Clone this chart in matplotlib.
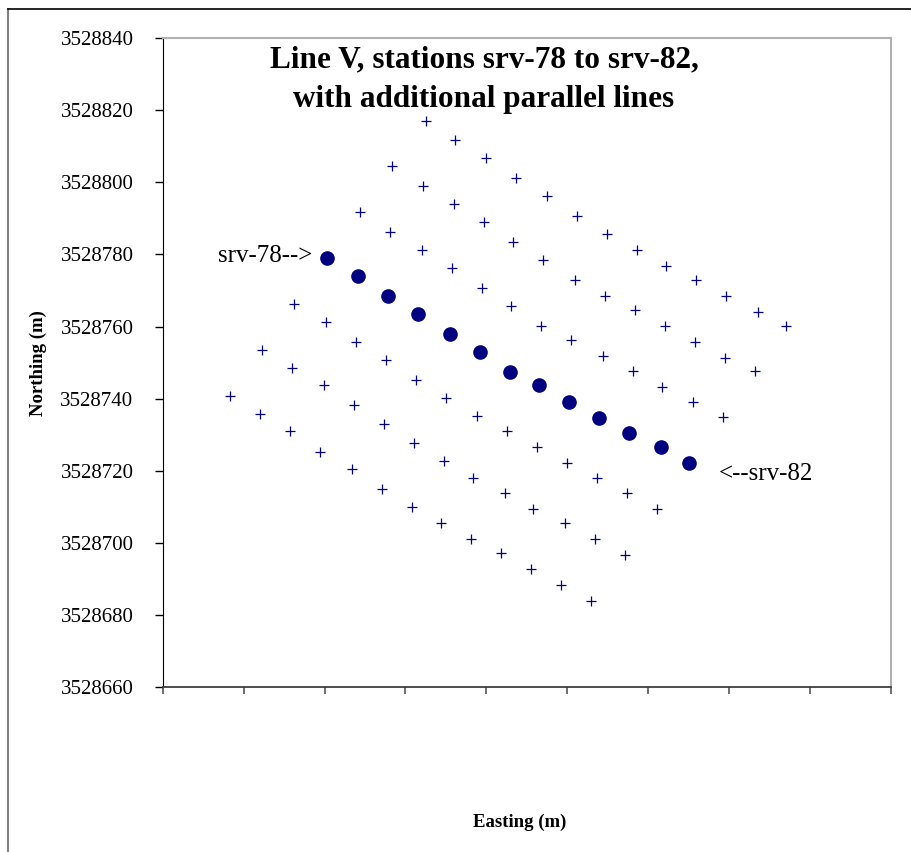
import numpy as np
import matplotlib
matplotlib.use("Agg")
import matplotlib.pyplot as plt
from matplotlib.lines import Line2D

plt.rcParams["font.family"] = ["Liberation Serif", "DejaVu Serif"]

# Easting has no tick labels in the original, so it is kept as metres
# from the left edge of the plot (ticks every 20 m).
EAST_TICKS  = [0, 20, 40, 60, 80, 100, 120, 140, 160, 180]
NORTH_TICKS = [3528660, 3528680, 3528700, 3528720, 3528740,
               3528760, 3528780, 3528800, 3528820, 3528840]

# ── Line V, stations srv-78 .. srv-82 (big dots) ──────────────────────
line_v_e = [40.7, 48.2, 55.6, 63.0, 70.9, 78.3, 85.8, 93.1, 100.4, 107.8, 115.2, 123.1, 130.0]
line_v_n = [3528779.1, 3528774.0, 3528768.5, 3528763.5, 3528758.0, 3528753.0, 3528747.5,
            3528743.7, 3528739.2, 3528734.7, 3528730.4, 3528726.5, 3528722.1]

# ── Parallel lines (plus markers), north-east side first ──────────────
par_a_e = [65.0, 72.3, 79.8, 87.2, 95.1, 102.4, 109.7, 117.2, 124.5, 131.9, 139.3, 147.2, 154.1]
par_a_n = [3528817.1, 3528811.7, 3528806.7, 3528801.2, 3528796.2, 3528790.7, 3528785.7,
           3528781.3, 3528776.8, 3528772.9, 3528768.5, 3528764.0, 3528760.2]

par_b_e = [56.6, 64.4, 71.9, 79.3, 86.6, 94.0, 101.9, 109.3, 116.7, 124.1, 131.5, 138.9, 146.3]
par_b_n = [3528804.5, 3528799.0, 3528794.0, 3528788.9, 3528783.4, 3528778.4, 3528772.9,
           3528768.5, 3528764.6, 3528760.1, 3528755.7, 3528751.4, 3528747.6]

par_c_e = [48.7, 56.1, 64.0, 71.4, 78.8, 86.1, 93.5, 100.9, 108.8, 116.2, 123.5, 131.0, 138.4]
par_c_n = [3528791.7, 3528786.3, 3528781.3, 3528776.3, 3528770.8, 3528765.8, 3528760.1,
           3528756.3, 3528751.9, 3528747.6, 3528743.2, 3528739.2, 3528734.8]

par_d_e = [32.4, 40.3, 47.8, 55.1, 62.5, 69.9, 77.8, 85.2, 92.5, 99.95, 107.3, 114.7, 122.1]
par_d_n = [3528766.3, 3528761.3, 3528755.7, 3528750.7, 3528745.2, 3528740.3, 3528735.3,
           3528730.9, 3528726.5, 3528722.1, 3528718.1, 3528713.7, 3528709.3]

par_e_e = [24.6, 32.0, 39.9, 47.3, 54.6, 62.0, 69.4, 76.8, 84.6, 91.6, 99.5, 106.8, 114.2]
par_e_n = [3528753.6, 3528748.6, 3528743.7, 3528738.1, 3528733.1, 3528727.6, 3528722.6,
           3528718.1, 3528713.7, 3528709.3, 3528705.4, 3528701.1, 3528696.6]

par_f_e = [16.7, 24.1, 31.5, 38.9, 46.7, 54.2, 61.6, 68.9, 76.3, 83.7, 91.1, 98.4, 105.8]
par_f_n = [3528740.8, 3528735.8, 3528730.9, 3528725.3, 3528720.4, 3528714.9, 3528709.9,
           3528705.4, 3528701.1, 3528697.1, 3528692.7, 3528688.2, 3528683.8]

parallel_lines = [
    (par_a_e, par_a_n), (par_b_e, par_b_n), (par_c_e, par_c_n),
    (par_d_e, par_d_n), (par_e_e, par_e_n), (par_f_e, par_f_n),
]

NAVY = "#000080"


def main():
    fig = plt.figure(figsize=(9.12, 8.52), dpi=100)
    ax = fig.add_axes([0.1784, 0.1937, 0.7986, 0.7614])

    for east, north in parallel_lines:
        ax.plot(east, north, ls="none", marker="+", ms=7, mew=0.9, color=NAVY)
    ax.plot(line_v_e, line_v_n, ls="none", marker="o", ms=9.5, color=NAVY)

    ax.text(13.6, 3528778.0, "srv-78-->", fontsize=18, ha="left", va="baseline")
    ax.text(137.4, 3528717.4, "<--srv-82", fontsize=18, ha="left", va="baseline")

    ax.set_xlim(EAST_TICKS[0], EAST_TICKS[-1])
    ax.set_ylim(NORTH_TICKS[0], NORTH_TICKS[-1])
    ax.set_xticks(EAST_TICKS)
    ax.set_xticklabels([])
    ax.set_yticks(NORTH_TICKS)
    ax.set_yticklabels([str(v) for v in NORTH_TICKS], fontsize=15)
    ax.tick_params(axis="y", direction="out", length=6, width=1, pad=15)
    ax.tick_params(axis="x", direction="out", length=5, width=1.2, color="#555555")

    ax.spines["left"].set_color("black")
    ax.spines["bottom"].set_color("#404040")
    ax.spines["bottom"].set_linewidth(1.3)
    for side in ("top", "right"):
        ax.spines[side].set_color("#b0b0b0")
        ax.spines[side].set_linewidth(1.5)

    fig.text(484 / 912, 1 - 45 / 852,
             "Line V, stations srv-78 to srv-82,\nwith additional parallel lines",
             fontsize=22.5, fontweight="bold", ha="center", va="top", linespacing=1.5)
    fig.text(38 / 912, 1 - 362.7 / 852, "Northing (m)", fontsize=13.5,
             fontweight="bold", rotation=90, ha="center", va="center")
    fig.text(520 / 912, 1 - 822 / 852, "Easting (m)", fontsize=13.5,
             fontweight="bold", ha="center", va="center")

    # chart-area frame (only left and top edges fall inside the picture)
    fig.add_artist(Line2D([8 / 912, 8 / 912], [0, 1 - 9 / 852],
                          transform=fig.transFigure, color="#808080", lw=1.5))
    fig.add_artist(Line2D([8 / 912, 1], [1 - 9 / 852, 1 - 9 / 852],
                          transform=fig.transFigure, color="black", lw=1.2))

    fig.savefig("out.png", dpi=100)
    plt.close(fig)


if __name__ == "__main__":
    main()
